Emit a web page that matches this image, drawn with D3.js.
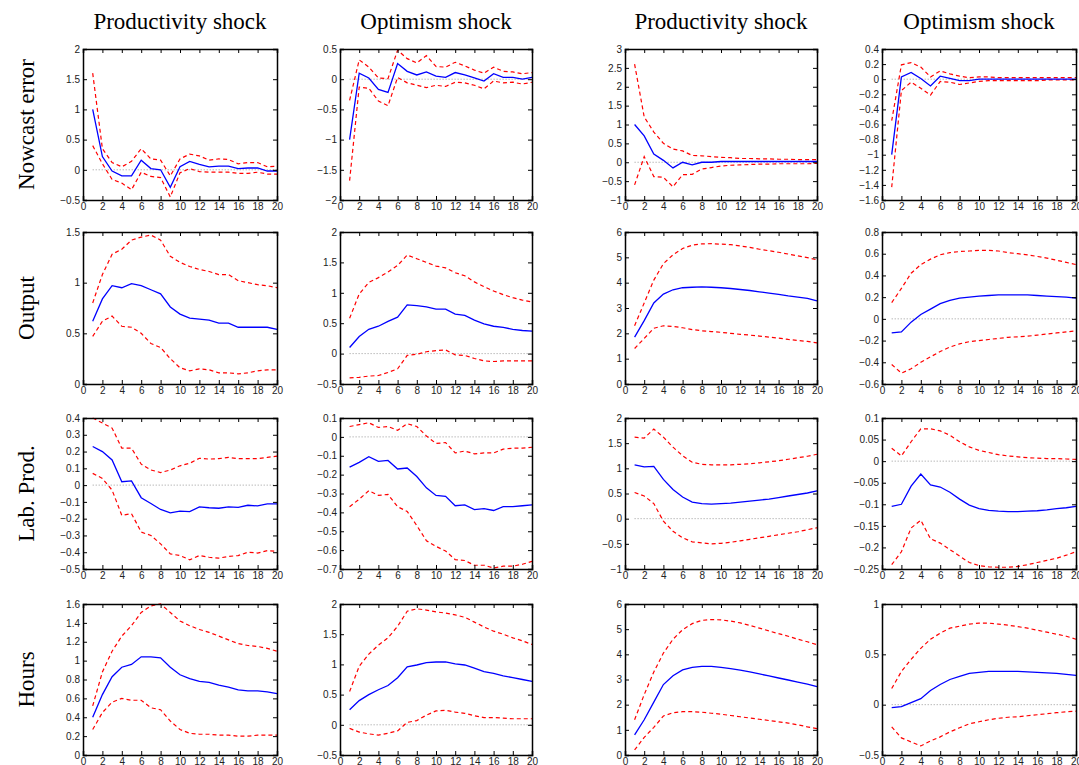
<!DOCTYPE html>
<html><head><meta charset="utf-8">
<script src="https://cdn.jsdelivr.net/npm/d3@7"></script>
<style>body{margin:0;background:#fff}</style>
</head><body>
<svg id="chart" width="1079" height="765"></svg>
<script>
const shocks = ['Productivity shock', 'Optimism shock', 'Productivity shock', 'Optimism shock'];
const variables = ['Nowcast error', 'Output', 'Lab. Prod.', 'Hours'];
const horizons = d3.range(1, 21);

// [mid, upper, lower] for each panel, row by row
const nowcastA = [
  [1,0.22,-0.02,-0.1,-0.1,0.16,0.02,0.0,-0.29,0.05,0.14,0.09,0.05,0.06,0.06,0.02,0.03,0.03,-0.02,-0.02],
  [1.6,0.35,0.12,0.05,0.14,0.35,0.18,0.16,-0.1,0.18,0.26,0.23,0.16,0.18,0.17,0.1,0.12,0.12,0.05,0.06],
  [0.4,0.1,-0.16,-0.22,-0.33,-0.04,-0.11,-0.13,-0.45,-0.05,0.02,-0.03,-0.04,-0.04,-0.04,-0.06,-0.06,-0.04,-0.07,-0.07]];
const nowcastB = [
  [-1,0.1,0.02,-0.17,-0.22,0.26,0.13,0.07,0.12,0.05,0.03,0.11,0.07,0.02,-0.03,0.09,0.03,0.03,0.0,0.03],
  [-0.35,0.32,0.2,0.02,0.01,0.48,0.34,0.27,0.39,0.21,0.2,0.28,0.22,0.15,0.1,0.2,0.13,0.12,0.09,0.11],
  [-1.68,-0.13,-0.15,-0.36,-0.44,0.03,-0.06,-0.1,-0.14,-0.1,-0.12,-0.05,-0.06,-0.1,-0.16,-0.03,-0.06,-0.05,-0.08,-0.05]];
const nowcastC = [
  [1,0.7,0.22,0.05,-0.15,0,-0.07,0,0,0.02,0.02,0.02,0.02,0.02,0.02,0.02,0.02,0.02,0.02,0.02],
  [2.6,1.2,0.8,0.5,0.35,0.3,0.18,0.17,0.15,0.13,0.12,0.1,0.1,0.09,0.09,0.08,0.08,0.07,0.07,0.07],
  [-0.6,0.15,-0.38,-0.4,-0.65,-0.33,-0.32,-0.18,-0.14,-0.1,-0.08,-0.07,-0.06,-0.05,-0.05,-0.04,-0.04,-0.04,-0.04,-0.03]];
const nowcastD = [
  [-1,0.03,0.09,0.01,-0.09,0.04,0.01,-0.02,-0.02,0,0,0,0,0,0,0,0,0,0,0],
  [-0.55,0.19,0.22,0.16,0.03,0.11,0.07,0.04,0.02,0.03,0.03,0.02,0.02,0.02,0.02,0.02,0.02,0.02,0.02,0.02],
  [-1.43,-0.15,-0.04,-0.12,-0.21,-0.03,-0.04,-0.07,-0.05,-0.03,-0.02,-0.02,-0.02,-0.02,-0.02,-0.02,-0.01,-0.01,-0.01,-0.01]];
const outputA = [
  [0.62,0.84,0.97,0.95,0.99,0.97,0.93,0.89,0.76,0.69,0.65,0.64,0.63,0.6,0.6,0.56,0.56,0.56,0.56,0.54],
  [0.8,1.08,1.28,1.33,1.42,1.45,1.47,1.42,1.26,1.2,1.16,1.13,1.11,1.08,1.08,1.02,1.0,0.98,0.97,0.95],
  [0.47,0.62,0.67,0.57,0.56,0.5,0.4,0.36,0.25,0.16,0.13,0.15,0.14,0.11,0.11,0.1,0.11,0.13,0.14,0.14]];
const outputB = [
  [0.1,0.28,0.4,0.45,0.53,0.6,0.8,0.79,0.77,0.73,0.73,0.65,0.63,0.55,0.49,0.45,0.43,0.4,0.38,0.37],
  [0.58,0.98,1.17,1.25,1.34,1.45,1.62,1.56,1.5,1.44,1.41,1.33,1.28,1.18,1.1,1.03,0.97,0.92,0.88,0.85],
  [-0.4,-0.39,-0.37,-0.36,-0.31,-0.25,-0.03,-0.01,0.03,0.05,0.06,-0.02,-0.03,-0.08,-0.12,-0.13,-0.12,-0.12,-0.12,-0.12]];
const outputC = [
  [1.85,2.5,3.2,3.55,3.72,3.8,3.82,3.83,3.82,3.8,3.77,3.73,3.69,3.64,3.59,3.54,3.48,3.43,3.38,3.28],
  [2.3,3.2,4.1,4.75,5.1,5.35,5.48,5.53,5.54,5.52,5.5,5.45,5.39,5.32,5.26,5.2,5.13,5.06,4.99,4.9],
  [1.4,1.8,2.2,2.3,2.27,2.22,2.15,2.1,2.07,2.04,2.0,1.96,1.93,1.89,1.85,1.81,1.76,1.72,1.68,1.62]];
const outputD = [
  [-0.13,-0.12,-0.03,0.04,0.09,0.14,0.17,0.19,0.2,0.21,0.215,0.22,0.22,0.22,0.22,0.215,0.21,0.205,0.2,0.19],
  [0.15,0.28,0.42,0.5,0.55,0.59,0.61,0.62,0.625,0.63,0.63,0.625,0.61,0.6,0.59,0.575,0.56,0.54,0.52,0.5],
  [-0.42,-0.5,-0.46,-0.4,-0.35,-0.3,-0.26,-0.23,-0.21,-0.2,-0.19,-0.18,-0.17,-0.165,-0.16,-0.15,-0.14,-0.13,-0.12,-0.11]];
const labProdA = [
  [0.23,0.2,0.15,0.02,0.025,-0.075,-0.11,-0.145,-0.165,-0.155,-0.158,-0.13,-0.135,-0.138,-0.13,-0.133,-0.12,-0.124,-0.112,-0.112],
  [0.4,0.37,0.34,0.22,0.22,0.125,0.09,0.075,0.09,0.115,0.13,0.16,0.155,0.158,0.165,0.158,0.158,0.158,0.165,0.173],
  [0.07,0.04,-0.03,-0.18,-0.17,-0.28,-0.3,-0.35,-0.41,-0.42,-0.445,-0.42,-0.43,-0.435,-0.425,-0.42,-0.4,-0.405,-0.39,-0.395]];
const labProdB = [
  [-0.16,-0.135,-0.105,-0.13,-0.125,-0.17,-0.165,-0.21,-0.27,-0.31,-0.315,-0.365,-0.36,-0.385,-0.38,-0.39,-0.37,-0.37,-0.365,-0.36],
  [0.055,0.065,0.075,0.05,0.055,0.035,0.07,0.055,0.005,-0.035,-0.03,-0.085,-0.075,-0.09,-0.085,-0.085,-0.065,-0.06,-0.06,-0.055],
  [-0.37,-0.33,-0.285,-0.31,-0.305,-0.37,-0.395,-0.47,-0.55,-0.58,-0.605,-0.65,-0.655,-0.68,-0.68,-0.695,-0.685,-0.685,-0.675,-0.66]];
const labProdC = [
  [1.07,1.03,1.04,0.78,0.58,0.43,0.33,0.3,0.29,0.3,0.31,0.33,0.35,0.37,0.39,0.42,0.45,0.48,0.51,0.55],
  [1.62,1.6,1.78,1.62,1.42,1.25,1.12,1.08,1.07,1.07,1.07,1.08,1.09,1.11,1.13,1.15,1.18,1.21,1.24,1.28],
  [0.52,0.45,0.3,-0.05,-0.25,-0.38,-0.46,-0.48,-0.5,-0.49,-0.47,-0.44,-0.41,-0.38,-0.35,-0.32,-0.29,-0.26,-0.22,-0.18]];
const labProdD = [
  [-0.105,-0.1,-0.058,-0.03,-0.055,-0.06,-0.072,-0.088,-0.102,-0.11,-0.114,-0.116,-0.117,-0.117,-0.116,-0.115,-0.113,-0.11,-0.108,-0.105],
  [0.03,0.012,0.045,0.075,0.075,0.07,0.06,0.045,0.033,0.025,0.02,0.015,0.012,0.01,0.008,0.007,0.006,0.006,0.005,0.004],
  [-0.24,-0.21,-0.155,-0.137,-0.18,-0.19,-0.205,-0.22,-0.235,-0.242,-0.245,-0.246,-0.246,-0.244,-0.24,-0.235,-0.23,-0.225,-0.218,-0.21]];
const hoursA = [
  [0.4,0.64,0.83,0.93,0.96,1.04,1.04,1.03,0.93,0.85,0.81,0.78,0.77,0.74,0.72,0.69,0.68,0.68,0.67,0.65],
  [0.52,0.88,1.1,1.26,1.37,1.51,1.58,1.6,1.51,1.42,1.37,1.33,1.3,1.26,1.22,1.18,1.16,1.15,1.13,1.1],
  [0.27,0.45,0.56,0.6,0.58,0.58,0.5,0.48,0.36,0.27,0.23,0.22,0.22,0.21,0.21,0.2,0.2,0.21,0.21,0.21]];
const hoursB = [
  [0.25,0.4,0.5,0.58,0.65,0.78,0.96,0.99,1.03,1.04,1.04,1.01,0.99,0.94,0.88,0.85,0.81,0.78,0.75,0.72],
  [0.55,0.97,1.17,1.32,1.44,1.63,1.88,1.92,1.9,1.87,1.85,1.82,1.78,1.7,1.62,1.55,1.5,1.44,1.39,1.33],
  [-0.06,-0.12,-0.15,-0.17,-0.14,-0.1,0.04,0.07,0.16,0.23,0.24,0.21,0.19,0.15,0.12,0.12,0.11,0.1,0.1,0.1]];
const hoursC = [
  [0.8,1.4,2.1,2.8,3.15,3.38,3.48,3.52,3.52,3.48,3.43,3.37,3.3,3.22,3.14,3.06,2.98,2.9,2.82,2.72],
  [1.4,2.4,3.3,4.05,4.6,4.98,5.22,5.35,5.38,5.37,5.32,5.25,5.15,5.04,4.93,4.82,4.72,4.6,4.5,4.38],
  [0.2,0.7,1.1,1.55,1.68,1.72,1.72,1.7,1.66,1.62,1.57,1.52,1.47,1.42,1.37,1.32,1.27,1.2,1.12,1.05]];
const hoursD = [
  [-0.03,-0.02,0.02,0.06,0.14,0.2,0.25,0.28,0.31,0.32,0.33,0.33,0.33,0.33,0.325,0.32,0.315,0.31,0.3,0.29],
  [0.16,0.33,0.45,0.56,0.65,0.71,0.76,0.78,0.8,0.81,0.81,0.8,0.79,0.775,0.76,0.74,0.72,0.7,0.68,0.65],
  [-0.22,-0.33,-0.37,-0.41,-0.36,-0.32,-0.27,-0.23,-0.19,-0.17,-0.15,-0.135,-0.125,-0.12,-0.11,-0.1,-0.09,-0.08,-0.07,-0.065]];

const panelData = [
  [nowcastA, nowcastB, nowcastC, nowcastD],
  [outputA, outputB, outputC, outputD],
  [labProdA, labProdB, labProdC, labProdD],
  [hoursA, hoursB, hoursC, hoursD]];

// y-axis domains and tick steps
const yDomains = [
  [[-0.5, 2], [-2, 0.5], [-1, 3], [-1.6, 0.4]],
  [[0, 1.5], [-0.5, 2], [0, 6], [-0.6, 0.8]],
  [[-0.5, 0.4], [-0.7, 0.1], [-1, 2], [-0.25, 0.1]],
  [[0, 1.6], [-0.5, 2], [0, 6], [-0.5, 1]]];
const yTickSteps = [
  [0.5, 0.5, 0.5, 0.2],
  [0.5, 0.5, 1, 0.2],
  [0.1, 0.1, 0.5, 0.05],
  [0.2, 0.5, 1, 0.5]];
const xTicks = d3.range(0, 21, 2);

const colX = [[83, 277], [340, 532], [625, 817], [882, 1076]];
const rowY = [[49, 200], [232, 384], [418, 569], [604, 755]];

const svg = d3.select('#chart');
const serif = '"Liberation Serif", "DejaVu Serif", serif';
const sans = '"Liberation Sans", Arial, sans-serif';
const fmt = v => d3.format('~g')(+v.toFixed(4)).replace('-', '\u2212');

shocks.forEach((s, c) => {
  svg.append('text').attr('x', (colX[c][0] + colX[c][1]) / 2).attr('y', 29)
    .attr('text-anchor', 'middle').style('font-family', serif).style('font-size', '23px').text(s);
});
variables.forEach((v, r) => {
  const cy = (rowY[r][0] + rowY[r][1]) / 2;
  svg.append('text').attr('transform', `translate(34,${cy}) rotate(-90)`)
    .attr('text-anchor', 'middle').style('font-family', serif).style('font-size', '23px').text(v);
});

for (let r = 0; r < 4; r++) {
  for (let c = 0; c < 4; c++) {
    const [x0, x1] = colX[c], [y0, y1] = rowY[r];
    const x = d3.scaleLinear().domain([0, 20]).range([x0, x1]);
    const y = d3.scaleLinear().domain(yDomains[r][c]).range([y1, y0]);
    const step = yTickSteps[r][c];
    const [d0, d1] = yDomains[r][c];
    const yTicks = d3.range(Math.round((d1 - d0) / step) + 1).map(i => +(d0 + i * step).toFixed(4));
    const g = svg.append('g');

    // zero reference line
    if (d0 < 0 && d1 > 0) {
      g.append('line').attr('x1', x(1)).attr('x2', x(20)).attr('y1', y(0)).attr('y2', y(0))
        .attr('stroke', '#999').attr('stroke-width', 1).attr('stroke-dasharray', '1,2');
    }

    const [mid, up, lo] = panelData[r][c];
    const line = d3.line().x((d, i) => x(horizons[i])).y(d => y(d));
    [up, lo].forEach(band => {
      g.append('path').datum(band).attr('d', line).attr('fill', 'none')
        .attr('stroke', '#ff0000').attr('stroke-width', 1.2).attr('stroke-dasharray', '4,3');
    });
    g.append('path').datum(mid).attr('d', line).attr('fill', 'none')
      .attr('stroke', '#0000ff').attr('stroke-width', 1.3);

    // axes with inward ticks on all sides
    const tl = 4;
    g.append('g').attr('transform', `translate(0,${y1})`)
      .call(d3.axisBottom(x).tickValues(xTicks).tickSize(-tl).tickPadding(3).tickFormat(d3.format('d')));
    g.append('g').attr('transform', `translate(0,${y0})`)
      .call(d3.axisTop(x).tickValues(xTicks).tickSize(-tl).tickFormat(''));
    g.append('g').attr('transform', `translate(${x0},0)`)
      .call(d3.axisLeft(y).tickValues(yTicks).tickSize(-tl).tickPadding(3).tickFormat(fmt));
    g.append('g').attr('transform', `translate(${x1},0)`)
      .call(d3.axisRight(y).tickValues(yTicks).tickSize(-tl).tickFormat(''));
    g.selectAll('.domain').attr('stroke', '#000').attr('stroke-width', 1.5);
    g.selectAll('.tick line').attr('stroke', '#000');
    g.selectAll('.tick text').style('font-family', sans).style('font-size', '10px').attr('fill', '#222');
  }
}
</script>
</body></html>
